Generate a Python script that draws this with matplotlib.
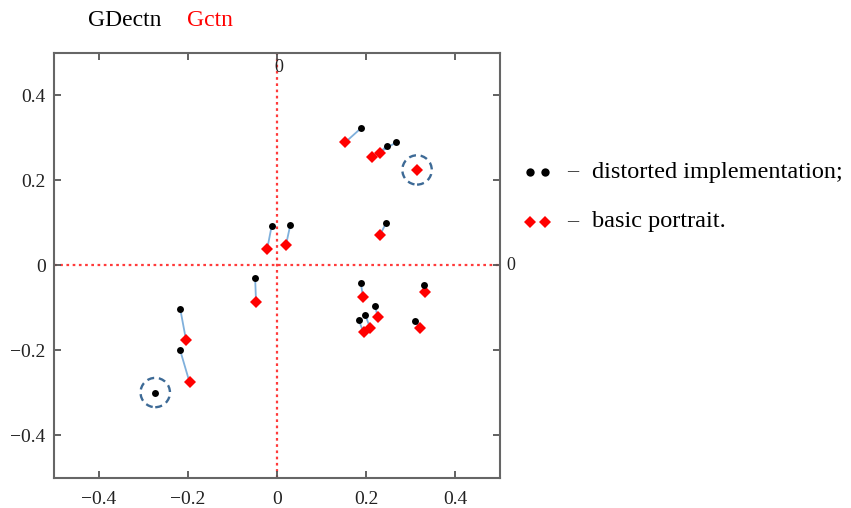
import matplotlib
matplotlib.use("Agg")
import matplotlib.pyplot as plt
from matplotlib.patches import Ellipse
from matplotlib.lines import Line2D

plt.rcParams['font.family'] = ['Liberation Serif', 'DejaVu Serif']

# distorted implementation (black dots), paired with basic portrait (red diamonds)
dist_x = [0.188, 0.267, 0.246, -0.012, 0.030, 0.244, -0.049, -0.217, -0.217,
          0.188, 0.330, 0.220, 0.198, 0.183, 0.310]
dist_y = [0.322, 0.289, 0.281, 0.092, 0.095, 0.098, -0.031, -0.103, -0.201,
          -0.043, -0.046, -0.097, -0.118, -0.129, -0.132]
base_x = [0.153, 0.214, 0.231, -0.022, 0.020, 0.231, -0.047, -0.204, -0.196,
          0.193, 0.331, 0.226, 0.209, 0.194, 0.321]
base_y = [0.289, 0.255, 0.265, 0.038, 0.047, 0.071, -0.087, -0.176, -0.276,
          -0.076, -0.064, -0.123, -0.148, -0.158, -0.148]
# unpaired (circled) points
extra_dist = (-0.273, -0.300)
extra_base = (0.314, 0.224)

ticks = [-0.4, -0.2, 0, 0.2, 0.4]
tick_labels = ['\u22120.4', '\u22120.2', '0', '0.2', '0.4']

fig = plt.figure(figsize=(8.51, 5.08), dpi=100)
ax = fig.add_axes([54/851, 1-477.5/508, (500-54)/851, (477.5-52.7)/508])
ax.set_xlim(-0.5, 0.5)
ax.set_ylim(-0.5, 0.5)

ax.axhline(0, color='#ff3b3b', linestyle=(0, (1.2, 1.6)), linewidth=1.6, zorder=1)
ax.axvline(0, color='#ff3b3b', linestyle=(0, (1.2, 1.6)), linewidth=1.6, zorder=1)

for bx, by, rx, ry in zip(dist_x, dist_y, base_x, base_y):
    ax.plot([bx, rx], [by, ry], color='#7fb0dc', linewidth=1.3, zorder=2)

ax.plot(base_x + [extra_base[0]], base_y + [extra_base[1]], linestyle='none',
        marker='D', markersize=6.5, color='#ff0000', markeredgewidth=0, zorder=3)
ax.plot(dist_x + [extra_dist[0]], dist_y + [extra_dist[1]], linestyle='none',
        marker='o', markersize=5, color='black', markeredgewidth=0, zorder=4)

for cx, cy in [extra_base, extra_dist]:
    ax.add_patch(Ellipse((cx, cy), 0.066, 0.069, fill=False, edgecolor='#3d6a96',
                         linestyle=(0, (3.0, 2.0)), linewidth=1.7, zorder=5))

ax.set_xticks(ticks)
ax.set_xticklabels(tick_labels)
ax.set_yticks(ticks)
ax.set_yticklabels(tick_labels)
ax.tick_params(direction='in', length=5, width=1.3, color='#555555',
               top=True, right=True, labelsize=14, labelcolor='#222222')
ax.tick_params(axis='x', pad=10)
ax.tick_params(axis='y', pad=6)
for s in ax.spines.values():
    s.set_color('#666666')
    s.set_linewidth(1.5)

ax.text(0.005, 0.485, '0', ha='center', va='top', fontsize=13, color='#222222')
ax.text(0.515, 0.0, '0', ha='left', va='center', fontsize=13, color='#222222',
        clip_on=False)

fig.text(88/851, 1-20/508, 'GDectn', ha='left', va='center', fontsize=17, color='black')
fig.text(187/851, 1-20/508, 'Gctn', ha='left', va='center', fontsize=17, color='#ff0000')

# legend-like annotation on the right
for yy, mk, col, ms, txt in [(172, 'o', 'black', 6, 'distorted implementation;'),
                             (222, 'D', '#ff0000', 6.5, 'basic portrait.')]:
    for xx in (530, 545):
        fig.add_artist(Line2D([xx/851], [1-yy/508], marker=mk, markersize=ms,
                              color=col, markeredgewidth=0, linestyle='none'))
    fig.text(567/851, 1-yy/508, '\u2013', ha='left', va='center', fontsize=16, color='#222222')
    fig.text(592/851, 1-yy/508, txt, ha='left', va='center', fontsize=17.5, color='black')

fig.savefig('out.png', dpi=100)
